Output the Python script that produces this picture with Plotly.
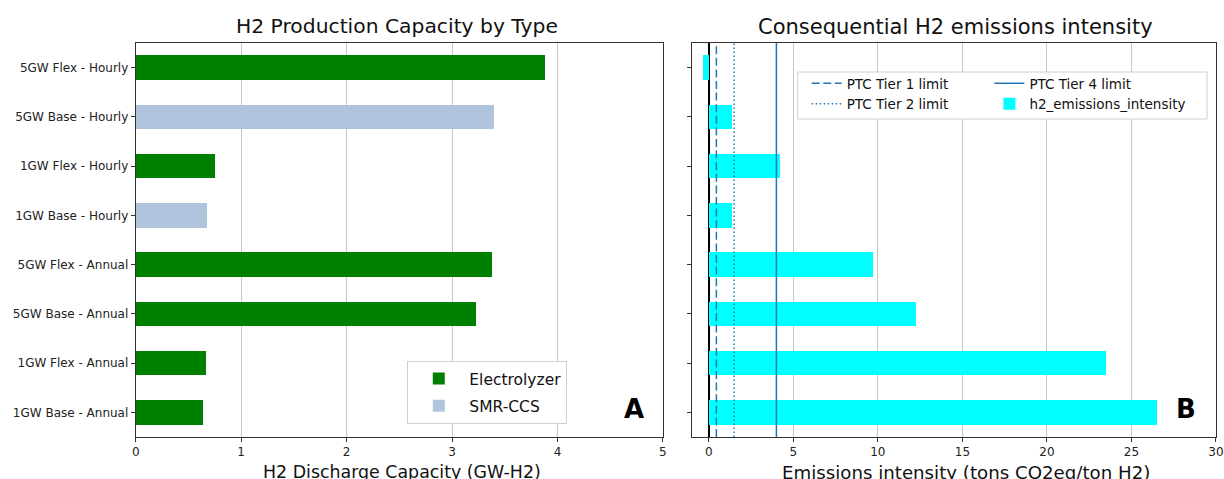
import plotly.graph_objects as go

# ---------------- data ----------------
categories = [
    "1GW Base - Annual", "1GW Flex - Annual", "5GW Base - Annual", "5GW Flex - Annual",
    "1GW Base - Hourly", "1GW Flex - Hourly", "5GW Base - Hourly", "5GW Flex - Hourly",
]
electrolyzer = [0.64, 0.67, 3.23, 3.38, 0.0, 0.75, 0.0, 3.88]
smr_ccs = [0.0, 0.0, 0.0, 0.0, 0.68, 0.0, 3.40, 0.0]
h2_emissions_intensity = [26.5, 23.5, 12.25, 9.7, 1.35, 4.2, 1.35, -0.35]

tier_names = ["PTC Tier 1 limit", "PTC Tier 2 limit", "PTC Tier 4 limit"]
tier_values = [0.45, 1.5, 4.0]

capacity_ticks = [0, 1, 2, 3, 4, 5]
emission_ticks = [0, 5, 10, 15, 20, 25, 30]

# ---------------- layout helpers ----------------
W, H = 1224, 479
def px(x):
    # horizontal calibration of the rendered page
    return min(1.0, ((x - 3.1) / 0.9917) / W)
def py(y):
    return 1 - y / H

FONT = "DejaVu Sans"
LINE_BLUE = "#1f77b4"
SPINE = "#333333"
GRID = "#c8c8c8"

pos = list(range(len(categories)))
y_span = [pos[0] - 0.5, pos[-1] + 0.5]

fig = go.Figure()

# Left panel bars
fig.add_trace(go.Bar(
    y=pos, x=electrolyzer, orientation="h", name="Electrolyzer",
    marker=dict(color="#008000", line=dict(width=0)), width=0.5,
    xaxis="x", yaxis="y", legend="legend3", legendgroup="el",
))
fig.add_trace(go.Bar(
    y=pos, x=smr_ccs, orientation="h", name="SMR-CCS",
    marker=dict(color="#b0c4de", line=dict(width=0)), width=0.5,
    xaxis="x", yaxis="y", legend="legend3", legendgroup="smr",
))

# Tier limit lines
dashes = ["8px,3.6px", "1.5px,2.5px", "solid"]
legends_for_tiers = ["legend", "legend", "legend2"]
for name, val, dash, lg in zip(tier_names, tier_values, dashes, legends_for_tiers):
    fig.add_trace(go.Scatter(
        x=[val, val], y=y_span, mode="lines", name=name,
        line=dict(color=LINE_BLUE, width=1.5, dash=dash),
        xaxis="x2", yaxis="y2", legend=lg, legendgroup=name,
        hoverinfo="skip",
    ))

# Right panel bars
fig.add_trace(go.Bar(
    y=pos, x=h2_emissions_intensity, orientation="h", name="h2_emissions_intensity",
    marker=dict(color="#00ffff", line=dict(width=0)), width=0.5,
    xaxis="x2", yaxis="y2", legend="legend2", legendgroup="h2",
))

ydom = [py(437), py(43)]

axis_common = dict(
    showline=True, mirror=True, linecolor=SPINE, linewidth=1,
    ticks="outside", ticklen=4, tickcolor=SPINE,
    tickfont=dict(family=FONT, size=12, color="#222"),
    ticklabeloverflow="allow",
)

fig.update_layout(
    width=W, height=H,
    margin=dict(l=0, r=0, t=0, b=0),
    paper_bgcolor="white", plot_bgcolor="white",
    barmode="stack",
    font=dict(family=FONT, color="#111"),
    xaxis=dict(domain=[px(135), px(663)], range=[0, 5], tickvals=capacity_ticks,
               showgrid=True, gridcolor=GRID, gridwidth=1, zeroline=False, anchor="y",
               **axis_common),
    yaxis=dict(domain=ydom, range=y_span, tickvals=pos, ticktext=categories,
               showgrid=False, zeroline=False, anchor="x", **axis_common),
    xaxis2=dict(domain=[px(692), px(1218)], range=[-1, 30], tickvals=emission_ticks,
                showgrid=True, gridcolor=GRID, gridwidth=1,
                zeroline=True, zerolinecolor="black", zerolinewidth=1.5, anchor="y2",
                **axis_common),
    yaxis2=dict(domain=ydom, range=y_span, tickvals=pos, showticklabels=False,
                showgrid=False, zeroline=False, anchor="x2", **axis_common),
    legend=dict(x=px(807), y=py(68), xanchor="left", yanchor="top",
                bgcolor="rgba(0,0,0,0)", borderwidth=0, tracegroupgap=0,
                font=dict(family=FONT, size=13.5, color="#111"), itemwidth=30),
    legend2=dict(x=px(990), y=py(68), xanchor="left", yanchor="top",
                 bgcolor="rgba(0,0,0,0)", borderwidth=0, tracegroupgap=0,
                 font=dict(family=FONT, size=13.5, color="#111"), itemwidth=30),
    legend3=dict(x=px(407), y=py(361), xanchor="left", yanchor="top",
                 bgcolor="white", bordercolor="#d0d0d0", borderwidth=1, tracegroupgap=4,
                 font=dict(family=FONT, size=15.5, color="#111"), itemwidth=51),
    shapes=[dict(type="rect", xref="paper", yref="paper",
                 x0=px(798), x1=px(1208), y0=py(119), y1=py(72),
                 line=dict(color="#d0d0d0", width=1), fillcolor="white", layer="above")],
    annotations=[
        dict(text="H2 Production Capacity by Type", xref="paper", yref="paper",
             x=px(397), y=py(26), xanchor="center", yanchor="middle", showarrow=False,
             font=dict(family=FONT, size=20.3, color="#111")),
        dict(text="Consequential H2 emissions intensity", xref="paper", yref="paper",
             x=px(956), y=py(27), xanchor="center", yanchor="middle", showarrow=False,
             font=dict(family=FONT, size=21, color="#111")),
        dict(text="H2 Discharge Capacity (GW-H2)", xref="paper", yref="paper",
             x=px(402), y=py(472), xanchor="center", yanchor="middle", showarrow=False,
             font=dict(family=FONT, size=17.4, color="#111")),
        dict(text="Emissions intensity (tons CO2eq/ton H2)", xref="paper", yref="paper",
             x=px(967), y=py(472), xanchor="center", yanchor="middle", showarrow=False,
             font=dict(family=FONT, size=18.2, color="#111")),
        dict(text="<b>A</b>", xref="paper", yref="paper",
             x=px(634), y=py(409), xanchor="center", yanchor="middle", showarrow=False,
             font=dict(family=FONT, size=26, color="black")),
        dict(text="<b>B</b>", xref="paper", yref="paper",
             x=px(1187), y=py(409), xanchor="center", yanchor="middle", showarrow=False,
             font=dict(family=FONT, size=26, color="black")),
    ],
)

fig.write_html(
    "out.html",
    config={"displayModeBar": False},
    post_script="document.body.style.margin='0';document.body.style.overflow='hidden';",
)
